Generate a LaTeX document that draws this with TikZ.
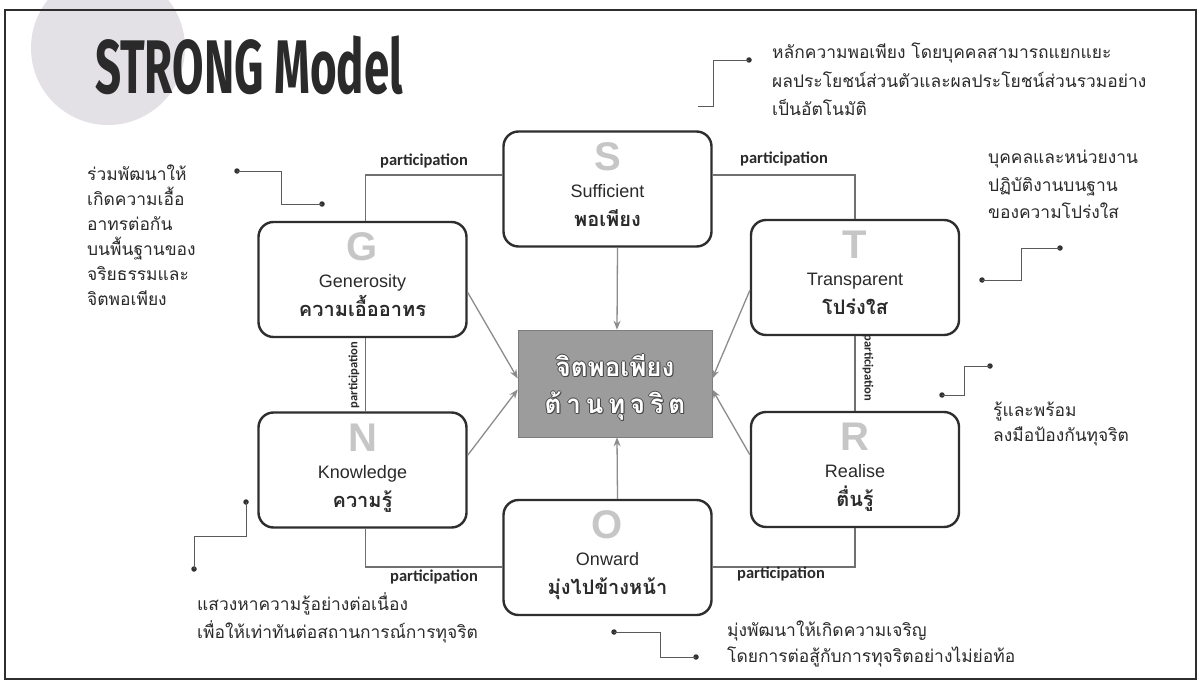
\documentclass[tikz,border=0pt]{standalone}
\usepackage{fontspec}
\setmainfont{Liberation Sans}
\newfontfamily\thai[Script=Thai]{Loma}
\newfontfamily\partfont{Carlito}
\newfontfamily\titlefont[FakeStretch=0.6]{Fira Sans}
\usetikzlibrary{arrows.meta}
\definecolor{boxc}{HTML}{2E2E2E}
\definecolor{partc}{HTML}{707070}
\definecolor{arrc}{HTML}{8C8C8C}
\definecolor{callc}{HTML}{5A5A5A}
\definecolor{dotcol}{HTML}{333333}
\definecolor{txt}{HTML}{2A2A2A}
\definecolor{letc}{HTML}{C6C6C6}
\definecolor{cfill}{HTML}{9C9C9C}
\definecolor{cshadow}{HTML}{4A4A4A}
\definecolor{circc}{HTML}{E3E0E6}
\newcommand\outtext[4]{%
  \foreach \dx/\dy [count=\i] in {1/0,-1/0,0/1,0/-1,1/1}{\node[ctext,text=cshadow] (#1s\i) at (#2+\dx,#3+\dy) {#4};}
  \node[ctext,text=white] (#1) at (#2,#3) {#4};}
\begin{document}
\begin{tikzpicture}[x=1pt,y=-1pt,
  box/.style={draw=boxc,line width=2.4pt,rounded corners=15pt,minimum width=208pt,minimum height=115pt,inner sep=0pt},
  bigl/.style={font=\fontsize{40}{40}\selectfont\bfseries,text=letc,anchor=base,inner sep=0pt},
  ename/.style={font=\fontsize{18}{18}\selectfont,text=txt,anchor=base,inner sep=0pt},
  tname/.style={font=\thai\bfseries\fontsize{20}{20}\selectfont,text=txt,anchor=base,inner sep=0pt},
  part/.style={draw=partc,line width=1.4pt},
  plabel/.style={font=\partfont\bfseries\fontsize{16.5}{16.5}\selectfont,text=txt,inner sep=0pt},
  vlabel/.style={font=\partfont\bfseries\fontsize{12.5}{12.5}\selectfont,text=txt,inner sep=0pt},
  arr/.style={draw=arrc,line width=1.3pt,-{Stealth[length=9pt,width=7pt]}},
  call/.style={draw=callc,line width=0.9pt},
  cdot/.style={circle,fill=dotcol,inner sep=0pt,minimum size=5.5pt},
  note/.style={font=\thai\fontsize{17.4}{17.4}\selectfont,anchor=base west,inner sep=0pt,text=txt},
  ctext/.style={font=\thai\bfseries\fontsize{26}{26}\selectfont,anchor=base,inner sep=0pt}
]
\useasboundingbox (0,0) rectangle (1199,682);
\fill[white] (0,0) rectangle (1199,682);
\begin{scope}
\clip (0,0) rectangle (1199,682);
\fill[circc] (108,48) circle[radius=77];
\end{scope}
\draw[boxc,line width=1.8pt] (5,10) rectangle (1196,679);

% title
\node[font=\titlefont\bfseries\fontsize{76}{76}\selectfont,text=txt,anchor=base west,inner sep=0pt] (title) at (95,94) {STRONG Model};

% boxes
\node[box] (S) at (607.5,189) {};
\node[box] (T) at (855,277.5) {};
\node[box] (G) at (362.5,279.5) {};
\node[box] (N) at (362.5,470) {};
\node[box] (R) at (855,469.5) {};
\node[box] (O) at (607.5,557.5) {};

\node[bigl] (Sl) at ([yshift=-40pt]S.north) {S};
\node[ename] (Se) at ([yshift=-67pt]S.north) {Sufficient};
\node[tname] (St) at ([yshift=-96pt]S.north) {พอเพียง};

\node[bigl] (Tl) at ([yshift=-40pt]T.north) {T};
\node[ename] (Te) at ([yshift=-67pt]T.north) {Transparent};
\node[tname] (Tt) at ([yshift=-96pt]T.north) {โปร่งใส};

\node[bigl] (Gl) at ([yshift=-40pt]G.north) {G};
\node[ename] (Ge) at ([yshift=-67pt]G.north) {Generosity};
\node[tname] (Gt) at ([yshift=-96pt]G.north) {ความเอื้ออาทร};

\node[bigl] (Nl) at ([yshift=-40pt]N.north) {N};
\node[ename] (Ne) at ([yshift=-67pt]N.north) {Knowledge};
\node[tname] (Nt) at ([yshift=-96pt]N.north) {ความรู้};

\node[bigl] (Rl) at ([yshift=-40pt]R.north) {R};
\node[ename] (Re) at ([yshift=-67pt]R.north) {Realise};
\node[tname] (Rt) at ([yshift=-96pt]R.north) {ตื่นรู้};

\node[bigl] (Ol) at ([yshift=-40pt]O.north) {O};
\node[ename] (Oe) at ([yshift=-67pt]O.north) {Onward};
\node[tname] (Ot) at ([yshift=-96pt]O.north) {มุ่งไปข้างหน้า};

% centre
\node[fill=cfill,draw=cfill!80!black,line width=0.6pt,minimum width=194pt,minimum height=107pt,inner sep=0pt] (C) at (615,383.5) {};
\outtext{C1}{615}{376}{จิตพอเพียง}
\outtext{C2}{615}{413}{\addfontfeatures{LetterSpace=18}ต้านทุจริต}

% arrows to centre
\draw[arr] ([xshift=10pt]S.south) -- ([xshift=2pt]C.north);
\draw[arr] ([xshift=10pt]O.north) -- ([xshift=2pt]C.south);
\draw[arr] (G.-7) -- ([yshift=5pt]C.west);
\draw[arr] (N.8) -- ([yshift=-6pt]C.west);
\draw[arr] (T.187) -- ([yshift=5pt]C.east);
\draw[arr] (R.172) -- ([yshift=-6pt]C.east);

% participation
\draw[part] ([xshift=3pt]G.north) |- ([yshift=14pt]S.west);
\draw[part] ([yshift=14pt]S.east) -| (T.north);
\draw[part] ([xshift=3pt]G.south) -- ([xshift=3pt]N.north);
\draw[part] (T.south) -- (R.north);
\draw[part] ([xshift=3pt]N.south) |- ([yshift=-9.5pt]O.west);
\draw[part] ([yshift=-9.5pt]O.east) -| (R.south);
\node[plabel] (p1) at (424,161) {participation};
\node[plabel] (p2) at (784,159) {participation};
\node[plabel] (p3) at (434,577) {participation};
\node[plabel] (p4) at (781,574) {participation};
\node[vlabel,rotate=90] (p5) at (354,375) {participation};
\node[vlabel,rotate=-90] (p6) at (868,368) {participation};

% callouts
\coordinate (a1) at (749,60); \coordinate (a2) at (698,106);
\node[cdot] (da1) at (a1) {};
\draw[call] (a1) -| (713,106) -- (a2);

\coordinate (b1) at (237,171); \coordinate (b2) at (322,204);
\node[cdot] (db1) at (b1) {}; \node[cdot] (db2) at (b2) {};
\draw[call] (b1) -| (281,204) -- (b2);

\coordinate (c1) at (982,280); \coordinate (c2) at (1060,248);
\node[cdot] (dc1) at (c1) {}; \node[cdot] (dc2) at (c2) {};
\draw[call] (c1) -| (1021,248) -- (c2);

\coordinate (e1) at (942,395); \coordinate (e2) at (990,366);
\node[cdot] (de1) at (e1) {}; \node[cdot] (de2) at (e2) {};
\draw[call] (e1) -| (964,366) -- (e2);

\coordinate (f1) at (246,502); \coordinate (f2) at (194,569);
\node[cdot] (df1) at (f1) {}; \node[cdot] (df2) at (f2) {};
\draw[call] (f1) |- (194,536) -- (f2);

\coordinate (g1) at (614,632); \coordinate (g2) at (696,657);
\node[cdot] (dg1) at (g1) {}; \node[cdot] (dg2) at (g2) {};
\draw[call] (g1) -| (660,657) -- (g2);

% notes
\node[note] (nS1) at (772,59) {หลักความพอเพียง โดยบุคคลสามารถแยกแยะ};
\node[note] (nS2) at (772,88) {ผลประโยชน์ส่วนตัวและผลประโยชน์ส่วนรวมอย่าง};
\node[note] (nS3) at (772,116) {เป็นอัตโนมัติ};

\node[note] (nG1) at (87,180) {ร่วมพัฒนาให้};
\node[note] (nG2) at (87,205) {เกิดความเอื้อ};
\node[note] (nG3) at (87,230) {อาทรต่อกัน};
\node[note] (nG4) at (87,255) {บนพื้นฐานของ};
\node[note] (nG5) at (87,280) {จริยธรรมและ};
\node[note] (nG6) at (87,305) {จิตพอเพียง};

\node[note] (nT1) at (988,164) {บุคคลและหน่วยงาน};
\node[note] (nT2) at (988,191) {ปฏิบัติงานบนฐาน};
\node[note] (nT3) at (988,218) {ของความโปร่งใส};

\node[note] (nR1) at (993,416) {รู้และพร้อม};
\node[note] (nR2) at (993,441) {ลงมือป้องกันทุจริต};

\node[note] (nN1) at (197,610) {แสวงหาความรู้อย่างต่อเนื่อง};
\node[note] (nN2) at (197,638) {เพื่อให้เท่าทันต่อสถานการณ์การทุจริต};

\node[note] (nO1) at (727,636) {มุ่งพัฒนาให้เกิดความเจริญ};
\node[note] (nO2) at (727,662) {โดยการต่อสู้กับการทุจริตอย่างไม่ย่อท้อ};
\end{tikzpicture}
\end{document}
